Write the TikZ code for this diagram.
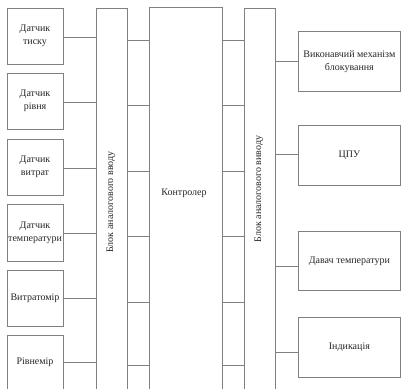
\documentclass[tikz,border=0pt]{standalone}
\usepackage{fontspec}
\setmainfont{Liberation Serif}
\begin{document}
\begin{tikzpicture}[x=1pt,y=-1pt,
  box/.style={draw=black!50, line width=0.8pt, rectangle, inner sep=0pt, align=center,
    font=\fontsize{10}{13}\selectfont, text=black!85},
  lbl/.style={inner sep=0pt, align=center, font=\fontsize{10}{13}\selectfont, text=black!85},
  wire/.style={draw=black!50, line width=0.8pt}]
\useasboundingbox (0,0) rectangle (401,388);
\clip (0,0) rectangle (401,388);
% left sensors
\node[box, minimum width=56pt, minimum height=56pt] (L1) at (35,36) {Датчик\\тиску};
\node[box, minimum width=56pt, minimum height=56pt] (L2) at (35,101) {Датчик\\рівня};
\node[box, minimum width=56pt, minimum height=56pt] (L3) at (35,167) {Датчик\\витрат};
\node[box, minimum width=56pt, minimum height=57pt] (L4) at (35,232.5) {Датчик\\температури};
\node[box, minimum width=56pt, minimum height=56pt] (L5) at (35,298) {Витратомір};
\node[box, minimum width=56pt, minimum height=70pt, anchor=north] (L6) at (35,335) {};
\node[lbl] (L6t) at (35,362) {Рівнемір};
% blocks
\node[box, minimum width=31pt, minimum height=400pt, anchor=north west] (in) at (96,8) {};
\node[lbl, rotate=90] (intxt) at (111,202) {Блок аналогового вводу};
\node[box, minimum width=73pt, minimum height=400pt, anchor=north west] (ctrl) at (149,7) {};
\node[lbl] (ctrltxt) at (184,193) {Контролер};
\node[box, minimum width=31pt, minimum height=400pt, anchor=north west] (out) at (244,8) {};
\node[lbl, rotate=90] (outtxt) at (259,189) {Блок аналогового виводу};
% right boxes
\node[box, minimum width=102pt, minimum height=60pt, anchor=north west] (R1) at (298,31) {Виконавчий механізм\\блокування};
\node[box, minimum width=102pt, minimum height=60pt, anchor=north west] (R2) at (298,125) {ЦПУ};
\node[box, minimum width=102pt, minimum height=59pt, anchor=north west] (R3) at (298,231) {Давач температури};
\node[box, minimum width=102pt, minimum height=60pt, anchor=north west] (R4) at (298,317) {\raisebox{3pt}{Індикація}};
% sensor connectors
\foreach \n/\y in {L1/37,L2/102,L3/168,L4/233,L5/298,L6/362}{
  \draw[wire] (\n.east |- 0,\y) -- (in.west |- 0,\y);
}
% block connectors
\foreach \y in {40,105,171,236,302,365}{
  \draw[wire] (in.east |- 0,\y) -- (ctrl.west |- 0,\y);
  \draw[wire] (ctrl.east |- 0,\y) -- (out.west |- 0,\y);
}
% output connectors
\foreach \n/\y in {R1/61,R2/154,R3/266,R4/352}{
  \draw[wire] (out.east |- 0,\y) -- (\n.west |- 0,\y);
}
\end{tikzpicture}
\end{document}
